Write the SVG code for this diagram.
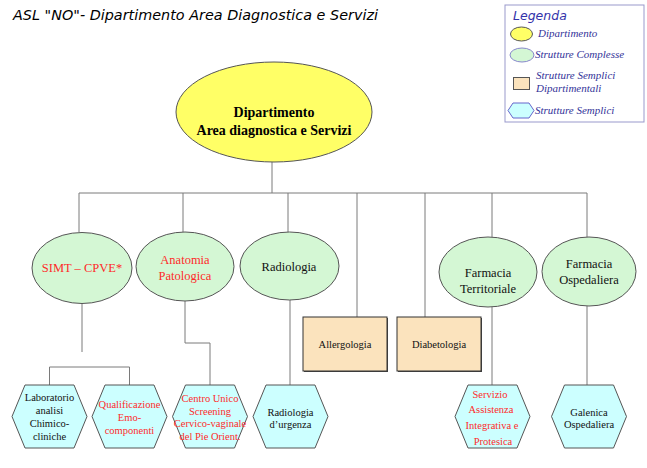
<svg xmlns="http://www.w3.org/2000/svg" width="647" height="468" viewBox="0 0 647 468">
<style>
.bg{fill:#ffffff}
.con{fill:none;stroke:#7a7a7a;stroke-width:1}
.dept{fill:#ffff66;stroke:#555555;stroke-width:1}
.sc{fill:#d4f7d4;stroke:#555555;stroke-width:1}
.ssd{fill:#fbe3bd;stroke:#333333;stroke-width:1}
.ss{fill:#ccffff;stroke:#555555;stroke-width:1}
.t{font-family:"Liberation Serif","Times New Roman",serif;text-anchor:middle}
.big{font-size:14px;font-weight:bold;fill:#000}
.mid{font-size:12.5px}
.sm{font-size:10.5px}
.red{fill:#ff2a2a}
.blk{fill:#111111}
.title{font-family:"DejaVu Sans","Liberation Sans",sans-serif;font-style:italic;font-size:14px;fill:#000}
.leg{font-family:"Liberation Serif",serif;font-style:italic;font-size:11px;fill:#333399}
.legh{font-family:"DejaVu Sans","Liberation Sans",sans-serif;font-style:italic;font-size:12.5px;fill:#3333aa}
</style>
<rect class="bg" x="0" y="0" width="647" height="468"/>

<text class="title" x="13" y="20" textLength="365" lengthAdjust="spacingAndGlyphs">ASL "NO"- Dipartimento Area Diagnostica e Servizi</text>

<g id="connectors">
<path class="con" d="M272,162 V193 M79,193 H587"/>
<path class="con" d="M79,193 V232 M183,193 V232 M288,193 V232 M357,193 V317 M425,193 V317 M492,193 V237 M587,193 V237"/>
<path class="con" d="M82,303 V352"/>
<path class="con" d="M49.5,385 V367 H129.5 V385"/>
<path class="con" d="M185,301 V343 H210 V385"/>
<path class="con" d="M290,300 V385"/>
<path class="con" d="M492,307 V385"/>
<path class="con" d="M587,306 V385"/>
</g>

<g id="dipartimento">
<ellipse class="dept" cx="274" cy="112" rx="98" ry="50"/>
<text class="t big" x="274" y="117">Dipartimento</text>
<text class="t big" x="274" y="135">Area diagnostica e Servizi</text>
</g>

<g id="simt">
<ellipse class="sc" cx="82" cy="268" rx="50" ry="35.5"/>
<text class="t mid red" x="82" y="272">SIMT – CPVE*</text>
</g>
<g id="anatomia">
<ellipse class="sc" cx="185" cy="266.5" rx="49" ry="34.5"/>
<text class="t mid red" x="185" y="264">Anatomia</text>
<text class="t mid red" x="185" y="280">Patologica</text>
</g>
<g id="radiologia">
<ellipse class="sc" cx="289.5" cy="266" rx="49.5" ry="34"/>
<text class="t mid blk" x="289" y="271">Radiologia</text>
</g>
<g id="farmacia-territoriale">
<ellipse class="sc" cx="488" cy="272" rx="49" ry="35"/>
<text class="t mid blk" x="488" y="277">Farmacia</text>
<text class="t mid blk" x="488" y="293">Territoriale</text>
</g>
<g id="farmacia-ospedaliera">
<ellipse class="sc" cx="589" cy="271.5" rx="47" ry="34.5"/>
<text class="t mid blk" x="589" y="268">Farmacia</text>
<text class="t mid blk" x="589" y="284">Ospedaliera</text>
</g>

<g id="allergologia">
<rect x="304" y="318" width="84" height="54" fill="#444444"/>
<rect class="ssd" x="303" y="317" width="84" height="54"/>
<text class="t sm blk" x="345" y="348">Allergologia</text>
</g>
<g id="diabetologia">
<rect x="398" y="318" width="84" height="54" fill="#444444"/>
<rect class="ssd" x="397" y="317" width="84" height="54"/>
<text class="t sm blk" x="439" y="348">Diabetologia</text>
</g>

<g id="laboratorio">
<polygon class="ss" points="25,385 74,385 87,416.5 74,448 25,448 12,416.5"/>
<text class="t sm blk" x="49.5" y="401">Laboratorio</text>
<text class="t sm blk" x="49.5" y="414">analisi</text>
<text class="t sm blk" x="49.5" y="427">Chimico-</text>
<text class="t sm blk" x="49.5" y="440">cliniche</text>
</g>
<g id="qualificazione">
<polygon class="ss" points="105,385 154,385 167,416.5 154,448 105,448 92,416.5"/>
<text class="t sm red" x="129.5" y="408">Qualificazione</text>
<text class="t sm red" x="129.5" y="421">Emo-</text>
<text class="t sm red" x="129.5" y="434">componenti</text>
</g>
<g id="centro-unico">
<polygon class="ss" points="185.5,385 234.5,385 247.5,416.5 234.5,448 185.5,448 172.5,416.5"/>
<text class="t sm red" x="210" y="402">Centro Unico</text>
<text class="t sm red" x="210" y="415">Screening</text>
<text class="t sm red" x="210" y="427">Cervico-vaginale</text>
<text class="t sm red" x="210" y="440">del Pie Orient.</text>
</g>
<g id="radiologia-urgenza">
<polygon class="ss" points="266,385 315,385 328,416.5 315,448 266,448 253,416.5"/>
<text class="t sm blk" x="290.5" y="416">Radiologia</text>
<text class="t sm blk" x="290.5" y="428">d’urgenza</text>
</g>
<g id="servizio-assistenza">
<polygon class="ss" points="468,385 517,385 530,416.5 517,448 468,448 455,416.5"/>
<text class="t sm red" x="490" y="398">Servizio</text>
<text class="t sm red" x="491" y="413">Assistenza</text>
<text class="t sm red" x="492" y="429">Integrativa e</text>
<text class="t sm red" x="493" y="445">Protesica</text>
</g>
<g id="galenica">
<polygon class="ss" points="564.5,385 613.5,385 626.5,416.5 613.5,448 564.5,448 551.5,416.5"/>
<text class="t sm blk" x="589" y="416">Galenica</text>
<text class="t sm blk" x="589" y="428">Ospedaliera</text>
</g>

<g id="legenda">
<rect x="505" y="5" width="139" height="117" fill="#ffffff" stroke="#9999cc" stroke-width="1"/>
<text class="legh" x="513" y="20">Legenda</text>
<ellipse class="dept" cx="521.5" cy="34" rx="11" ry="7"/>
<text class="leg" x="538" y="37">Dipartimento</text>
<ellipse cx="522" cy="55" rx="12" ry="7" fill="#d4f7d4" stroke="#8888cc"/>
<text class="leg" x="535" y="58">Strutture Complesse</text>
<rect x="513.5" y="77.5" width="16" height="12" fill="#fbe3bd" stroke="#555555"/>
<text class="leg" x="536" y="79">Strutture Semplici</text>
<text class="leg" x="536" y="92">Dipartimentali</text>
<polygon points="513,103 529,103 534,110.5 529,118 513,118 508,110.5" fill="#ccffff" stroke="#6666cc"/>
<text class="leg" x="535" y="114">Strutture Semplici</text>
</g>
</svg>
